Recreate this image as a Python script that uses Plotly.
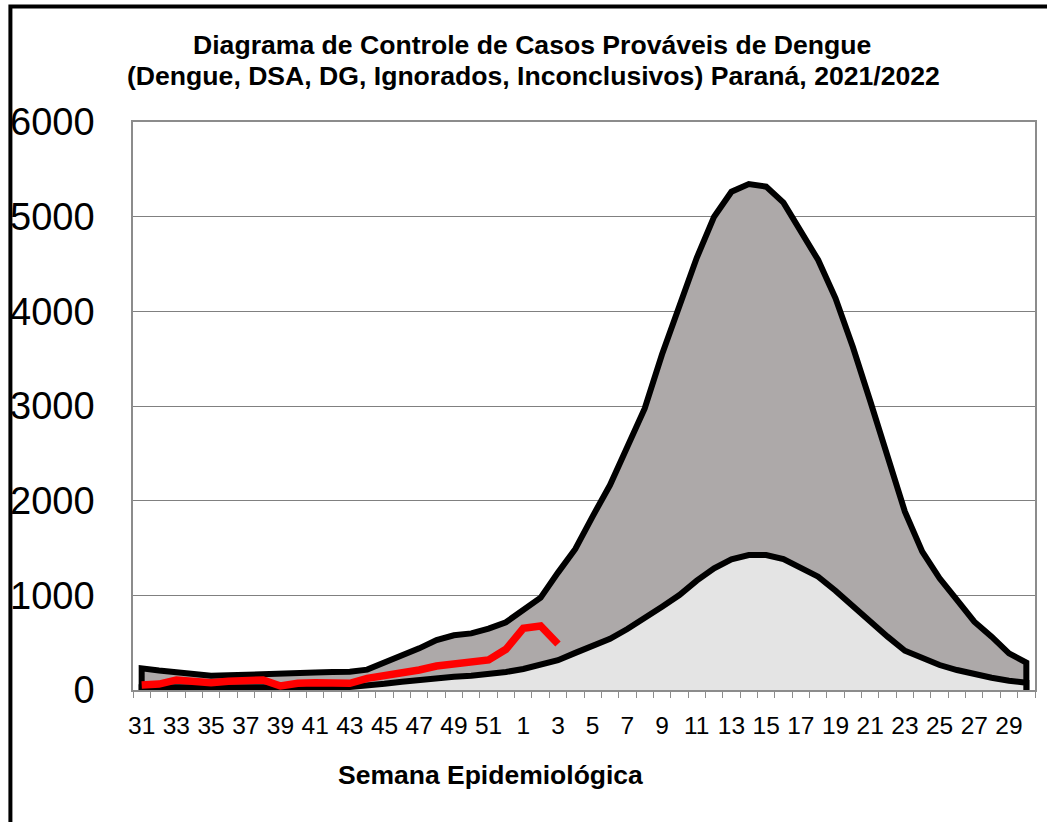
import plotly.graph_objects as go

# Epidemiological weeks (2021 weeks 31-52, 2022 weeks 1-30)
weeks = list(range(31, 53)) + list(range(1, 31))

# Upper limit (epidemic threshold curve)
upper = [229, 205, 183, 160, 150, 155, 158, 166, 174, 180, 185, 190, 194,
         215, 289, 362, 440, 528, 578, 598, 648, 716,
         840, 975, 1240, 1490, 1835, 2165, 2570, 2975, 3546, 4060, 4565,
         5000, 5264, 5345, 5317, 5148, 4835, 4542, 4137, 3623, 3053, 2482,
         1884, 1461, 1180, 951, 722, 563, 387, 289]

# Lower curve (median / expected)
lower = [30, 28, 27, 25, 25, 25, 25, 25, 25, 27, 28, 30, 33,
         45, 65, 88, 110, 132, 141, 150, 166, 190,
         222, 262, 315, 392, 462, 540, 644, 757, 880, 1003, 1155,
         1285, 1380, 1426, 1426, 1384, 1296, 1197, 1049, 880, 711, 563,
         415, 335, 264, 211, 166, 130, 98, 77]

# Current season 2021/2022 (through week 3)
current = [53, 63, 106, 92, 77, 92, 92, 106, 42, 71, 77, 71, 71,
           123, 148, 169, 211, 253, 275, 310, 317, 430,
           652, 676, 486]

tick_labels = [str(w) for w in weeks]
y_ticks = [0, 1000, 2000, 3000, 4000, 5000, 6000]

title_line1 = "Diagrama de Controle de Casos Prováveis de Dengue"
title_line2 = "(Dengue, DSA, DG, Ignorados, Inconclusivos) Paraná, 2021/2022"
x_title = "Semana Epidemiológica"

idx = list(range(len(weeks)))
FONT = "Liberation Sans, Arial, sans-serif"

fig = go.Figure()

# Upper area with closed outline (vertical edges at both ends)
fig.add_trace(go.Scatter(
    x=[idx[0]] + idx + [idx[-1]],
    y=[0] + upper + [0],
    mode="lines", fill="tozeroy", fillcolor="#ADA9A9",
    line=dict(color="black", width=6),
    hoverinfo="skip", showlegend=False))

# Lower area
fig.add_trace(go.Scatter(
    x=[idx[0]] + idx + [idx[-1]],
    y=[0] + lower + [0],
    mode="lines", fill="tozeroy", fillcolor="#E4E4E4",
    line=dict(color="black", width=6),
    hoverinfo="skip", showlegend=False))

# Current season line
fig.add_trace(go.Scatter(
    x=idx[:len(current)], y=current,
    mode="lines", line=dict(color="#FF0000", width=7.5),
    hoverinfo="skip", showlegend=False))

W, H = 1047, 822
L, R, T, B = 132, 10, 122, 132
pw, ph = W - L - R, H - T - B


def px(xp):
    return (xp - L) / pw


def py(yp):
    return (H - B - yp) / ph


fig.update_layout(
    width=W, height=H,
    margin=dict(l=L, r=R, t=T, b=B),
    paper_bgcolor="white", plot_bgcolor="white",
    font=dict(family=FONT, color="black"),
    xaxis=dict(
        range=[-0.5, len(weeks) - 0.5],
        tickmode="array", tickvals=idx[::2], ticktext=tick_labels[::2],
        ticks="", tickfont=dict(size=24.5, family=FONT),
        ticklabelstandoff=13,
        minor=dict(ticks="outside", tick0=-0.5, dtick=1, ticklen=6,
                   tickcolor="#8C8C8C", tickwidth=1),
        showgrid=False, zeroline=False,
        showline=True, linecolor="#8C8C8C", linewidth=1.5, mirror=True,
    ),
    yaxis=dict(
        range=[0, 6000], tickmode="array", tickvals=y_ticks,
        ticktext=[str(v) for v in y_ticks],
        tickfont=dict(size=38, family=FONT), ticks="",
        ticklabelstandoff=29,
        showgrid=True, gridcolor="#808080", gridwidth=1,
        zeroline=False,
        showline=True, linecolor="#8C8C8C", linewidth=1.5, mirror=True,
    ),
    annotations=[
        dict(text="<b>" + title_line1 + "</b>",
             xref="paper", yref="paper", x=px(532), y=py(45),
             xanchor="center", yanchor="middle", showarrow=False,
             font=dict(size=26.6, family=FONT, color="black")),
        dict(text="<b>" + title_line2 + "</b>",
             xref="paper", yref="paper", x=px(534), y=py(76),
             xanchor="center", yanchor="middle", showarrow=False,
             font=dict(size=26.6, family=FONT, color="black")),
        dict(text="<b>" + x_title + "</b>",
             xref="paper", yref="paper", x=px(491), y=py(775),
             xanchor="center", yanchor="middle", showarrow=False,
             font=dict(size=26.5, family=FONT, color="black")),
    ],
    shapes=[
        dict(type="rect", xref="paper", yref="paper",
             x0=px(9), x1=px(W + 20), y0=py(H + 20), y1=py(6.5),
             line=dict(color="black", width=4), layer="above"),
    ],
)

fig.write_html("out.html",
               config={"displayModeBar": False},
               post_script="document.body.style.margin='0';"
                           "document.body.style.padding='0';")
